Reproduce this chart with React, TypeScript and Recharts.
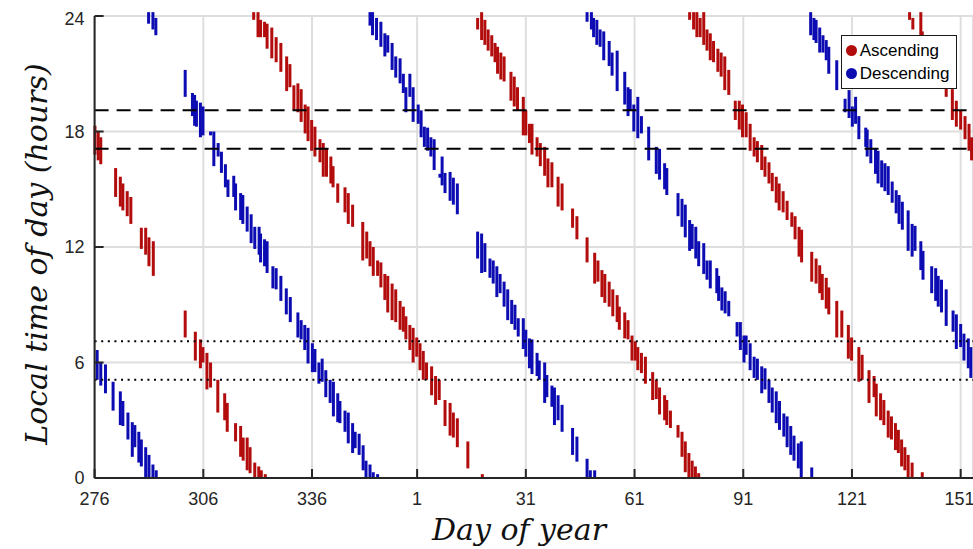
import { ScatterChart, Scatter, XAxis, YAxis, CartesianGrid, ReferenceLine, ErrorBar, Legend } from 'recharts';

// each streak: [day index, top hour, bottom hour]; day index runs on past 365 into the next year
type Pass = [number, number, number][];

const ascending1: Pass = [
  [276.1, 18.3, 16.8], [277, 18.0, 16.5], [277.7, 17.7, 16.3],
  [281.8, 16.1, 14.6], [283.1, 15.65, 14.1], [283.8, 15.3, 13.9], [285, 14.9, 13.6], [286, 14.6, 13.2],
  [288.9, 13.0, 11.9], [290.1, 13.0, 11.6], [291, 12.5, 11.0], [292.2, 12.3, 10.5],
  [301, 8.7, 7.3], [303.8, 7.6, 6.1], [305.2, 7.2, 5.7], [305.9, 6.8, 6.0], [307, 6.5, 4.6], [308, 6.0, 4.7],
  [310, 5.1, 3.4], [311.9, 4.4, 3.0], [312.6, 3.9, 2.4], [314.9, 2.85, 1.9], [316.3, 2.7, 1.1], [317, 2.1, 0.9],
  [318.1, 2.1, 0.4], [318.9, 1.6, 0.25], [320.2, 0.8, 0], [321.3, 0.6, 0], [322, 0.4, 0], [323.1, 0.2, 0],
];

const ascending2: Pass = [
  [319.9, 24.2, 23.8], [321.1, 24.2, 22.9], [321.8, 23.8, 22.9], [322.9, 23.7, 22.9], [323.6, 23.6, 22.3],
  [324.9, 23.4, 21.8], [326.1, 22.9, 21.6], [327.4, 22.6, 21.1], [329, 21.9, 20.1], [329.9, 21.5, 20.3],
  [331, 20.4, 19.1], [332.1, 20.5, 19.0], [333, 20.2, 18.5], [334.1, 19.4, 17.9], [334.9, 19.3, 17.5],
  [335.9, 18.6, 17.0], [336.8, 18.25, 16.7], [338.2, 17.6, 16.4], [339.1, 17.4, 15.65], [340, 17.1, 15.65],
  [341.2, 16.7, 15.3], [341.8, 16.2, 15.1], [343.1, 15.3, 14.3], [345.1, 15.1, 13.8], [346, 14.8, 13.2],
  [347.2, 14.2, 13.05], [350, 13.3, 11.3], [351.1, 12.8, 11.4], [352, 12.3, 11.0], [352.9, 12.0, 10.5],
  [354.1, 11.3, 10.5], [355, 11.2, 9.9], [356.1, 10.6, 9.25], [356.9, 10.5, 8.6], [358.1, 10.1, 8.2],
  [359.1, 9.8, 8.1], [360.3, 9.2, 7.7], [361.2, 8.9, 7.6], [361.9, 8.4, 7.2], [363, 7.95, 6.65],
  [363.9, 7.8, 6.0], [364.9, 7.3, 6.3], [365.8, 7.0, 5.6], [366.7, 6.6, 5.1], [367.6, 6.0, 5.1],
  [369, 5.8, 4.3], [370.1, 5.3, 3.8], [371.1, 5.1, 4.05], [372.7, 4.05, 2.7], [374.1, 3.9, 2.2],
  [375, 3.4, 2.1], [376.1, 3.1, 1.6], [379, 1.9, 0.5], [383, 0.2, 0],
];

const ascending3: Pass = [
  [381.7, 23.9, 23.3], [382.8, 24.2, 22.75], [383.7, 23.8, 22.5], [384.6, 23.3, 22.2], [385.6, 23.0, 21.9],
  [386.5, 22.6, 21.6], [387.2, 22.4, 21.0], [388.1, 22.1, 20.7], [389, 21.9, 20.6], [390.9, 21.1, 19.6],
  [391.8, 20.85, 19.3], [392.7, 20.3, 19.1], [394.3, 19.8, 17.8], [395, 19.1, 17.8], [396, 18.4, 17.4],
  [396.7, 18.4, 16.8], [398.1, 17.7, 16.7], [399, 17.4, 16.2], [400.2, 17.2, 15.7], [401.1, 16.6, 15.1],
  [402.2, 16.4, 15.1], [403.9, 15.65, 14.1], [405, 15.3, 13.9], [407.9, 14.0, 13.0], [409.1, 13.6, 12.4],
  [411.9, 12.5, 11.2], [414, 11.7, 10.1], [414.9, 11.3, 10.2], [416, 10.8, 9.4], [416.8, 10.6, 9.1],
  [418, 10.2, 8.9], [419, 9.8, 8.4], [420.2, 9.5, 8.1], [420.8, 8.9, 7.7], [422.3, 8.6, 7.25],
  [423.2, 8.2, 7.2], [424.3, 7.4, 6.1], [425.2, 7.1, 6.1], [425.9, 6.8, 5.6], [426.9, 6.5, 5.45],
  [428, 6.3, 4.9], [430, 5.5, 4.05], [431, 5.1, 4.1], [431.9, 4.7, 3.3], [433.3, 4.3, 3.0],
  [433.9, 4.05, 2.75], [434.9, 3.5, 2.6], [437, 2.75, 2.1], [438.1, 2.4, 1.1], [439, 1.9, 0.3],
  [440, 1.3, 0], [440.9, 0.9, 0], [441.8, 0.6, 0], [442.7, 0.25, 0],
];

const ascending4: Pass = [
  [440.2, 24.2, 23.8], [441.3, 24.2, 23.3], [442.2, 24.2, 22.9], [443.1, 23.9, 22.9], [444.1, 24.2, 22.5],
  [445, 23.3, 22.2], [445.9, 23.1, 21.7], [446.8, 22.7, 21.6], [448, 22.3, 21.1], [448.9, 22.1, 20.85],
  [449.9, 21.9, 20.15], [451, 21.2, 19.9], [452.8, 19.6, 18.6], [453.9, 19.6, 18.1], [454.8, 19.4, 17.7],
  [455.8, 19.0, 17.7], [456.9, 18.4, 17.0], [458, 17.7, 16.7], [458.9, 17.5, 16.4], [460.1, 17.3, 16.0],
  [461, 16.7, 15.65], [462.1, 16.4, 15.3], [463, 15.85, 14.9], [464.1, 15.65, 14.3], [464.9, 15.3, 13.9],
  [466, 14.9, 13.8], [467.1, 14.4, 13.4], [468.4, 13.8, 13.05], [469.3, 13.6, 12.4], [470.4, 13.05, 11.5],
  [471.1, 12.9, 11.2], [473.9, 11.75, 10.2], [475.1, 11.4, 10.1], [476.1, 11.05, 9.6], [476.8, 10.6, 9.25],
  [477.9, 10.4, 8.8], [478.6, 9.9, 8.5], [480.8, 9.2, 7.3], [482.2, 8.7, 7.3], [484, 7.95, 6.2],
  [484.9, 7.3, 6.1], [486.9, 6.8, 5.0], [487.8, 6.4, 5.1], [489.7, 5.6, 3.9], [491.1, 5.3, 4.2],
  [491.7, 4.9, 3.2], [492.9, 4.4, 3.0], [493.8, 4.05, 2.75], [495, 3.5, 2.1], [495.9, 3.2, 2.0],
  [497, 2.85, 1.45], [497.8, 2.5, 1.3], [498.7, 2.0, 0.6], [499.6, 1.6, 0.4], [500.5, 1.2, 0],
  [501.6, 0.8, 0], [504.4, 0.3, 0],
];

const ascending5: Pass = [
  [500.9, 24.2, 23.8], [501.8, 23.9, 23.3], [504, 24.2, 23.0], [504.4, 23.2, 22.4], [505.5, 22.9, 22.0],
  [506.5, 22.5, 21.6], [507.5, 22.1, 21.1], [508.5, 21.7, 20.7], [509.5, 21.2, 20.3], [511, 20.3, 19.8],
  [512.7, 20.2, 18.6], [513.8, 19.6, 18.25], [515, 19.1, 18.1], [516.2, 18.8, 17.6], [517.3, 18.4, 17.0],
  [518, 17.7, 16.5],
];

const descending0: Pass = [
  [276.7, 6.65, 5.1], [277.7, 6.0, 4.8], [279, 5.9, 4.4], [281.1, 5.0, 3.5], [283.1, 4.5, 2.75],
  [283.8, 4.0, 2.7], [285.2, 3.4, 2.0], [286.4, 2.9, 1.1], [287.1, 2.75, 1.6], [288.2, 2.4, 0.8],
  [288.9, 2.0, 0.6], [290.1, 1.6, 0], [291, 1.2, 0], [292.1, 0.7, 0], [293, 0.4, 0],
];

const descending1: Pass = [
  [290.9, 24.2, 23.6], [292.1, 24.2, 23.3], [292.9, 23.9, 23.0],
  [301, 21.2, 19.8], [303, 20.0, 18.8], [303.6, 19.9, 18.3], [304.1, 19.6, 18.25], [305.2, 19.5, 17.7],
  [305.9, 19.3, 17.8], [308, 18.0, 17.8], [308.9, 18.0, 16.2], [310.1, 17.4, 16.7], [311, 16.95, 15.85],
  [312.1, 16.3, 15.1], [312.8, 15.5, 14.6], [314.4, 15.7, 14.6], [314.9, 15.3, 13.9], [316.3, 14.8, 13.4],
  [316.9, 14.7, 13.2], [318.1, 14.1, 12.8], [319.2, 13.7, 12.2], [320.2, 13.05, 11.9], [321.4, 13.05, 11.6],
  [321.8, 12.7, 11.2], [322.9, 12.4, 11.0], [323.6, 12.3, 10.65], [325.2, 11.0, 9.85], [326.1, 10.9, 9.8],
  [327.4, 10.5, 9.2], [328.9, 9.85, 8.5], [330, 9.4, 8.1], [332.1, 8.6, 7.3], [333, 8.2, 7.2],
  [334, 7.95, 6.65], [334.9, 7.8, 5.95], [336.1, 7.0, 5.5], [336.8, 6.7, 5.5], [337.9, 6.0, 4.9],
  [338.8, 6.2, 5.0], [339.8, 5.6, 4.2], [341, 5.1, 3.9], [341.9, 5.0, 3.2], [343.1, 4.4, 2.9],
  [343.7, 4.0, 2.85], [345.1, 3.5, 2.4], [346, 3.4, 1.8], [347.2, 2.85, 1.3], [347.9, 2.4, 1.55],
  [349, 2.3, 1.2], [350.1, 1.7, 0.4], [350.9, 0.9, 0], [352, 0.7, 0], [352.9, 0.3, 0], [354.1, 0.2, 0],
];

const descending2: Pass = [
  [352, 24.2, 23.5], [352.7, 24.2, 23.0], [353.8, 23.9, 22.75], [355, 23.7, 22.4], [356.1, 23.1, 21.9],
  [356.9, 23.0, 22.1], [358.1, 22.6, 21.2], [359.1, 21.9, 20.8], [360.3, 21.8, 20.5], [361.2, 21.0, 20.0],
  [361.9, 20.3, 19.0], [363, 21.0, 19.8], [363.9, 20.3, 18.5], [365.3, 19.4, 18.4], [366.1, 19.1, 17.7],
  [367, 18.25, 17.2], [367.9, 18.2, 17.0], [368.8, 17.7, 16.7], [369.7, 17.6, 16.0], [371.3, 15.8, 15.6],
  [371.9, 16.7, 15.2], [372.7, 15.85, 14.8], [374.1, 15.9, 14.4], [375, 15.6, 14.2], [376.1, 15.3, 13.7],
  [381.7, 12.8, 11.4], [382.8, 12.7, 10.65], [383.7, 12.2, 10.7], [385.1, 11.4, 10.4], [386, 11.3, 10.1],
  [387, 11.0, 9.4], [387.9, 10.6, 9.6], [389, 10.2, 8.9], [390, 9.8, 8.2], [391.1, 9.25, 8.0],
  [392, 9.0, 7.7], [392.9, 8.3, 7.35], [394.3, 8.3, 6.7], [395, 7.7, 6.3], [396, 7.25, 5.7],
  [396.7, 7.2, 5.4], [398.1, 6.5, 5.3], [398.7, 6.1, 5.1], [400.2, 6.0, 3.9], [400.8, 5.35, 4.2],
  [402.2, 4.8, 3.7], [402.9, 4.7, 2.75], [403.9, 4.3, 3.0], [405, 3.8, 2.4], [407.9, 2.6, 1.2],
  [409.1, 2.15, 0.85], [411.9, 1.0, 0], [412.8, 0.4, 0], [414, 0.4, 0],
];

const descending3: Pass = [
  [411.9, 24.2, 23.7], [413.1, 24.2, 23.3], [413.7, 23.9, 22.9], [414.6, 23.8, 22.5], [415.5, 23.3, 22.4],
  [416.5, 23.2, 21.7], [418, 22.7, 21.4], [418.8, 22.1, 20.9], [420.2, 22.2, 20.1], [422.3, 21.1, 19.4],
  [423.2, 20.3, 18.8], [423.8, 20.2, 19.1], [424.8, 19.4, 18.0], [425.9, 19.8, 17.65], [426.9, 18.8, 17.9],
  [428.9, 18.25, 16.5], [431, 17.2, 15.8], [431.9, 17.1, 15.5], [433.3, 16.35, 15.0], [433.9, 16.1, 14.7],
  [437, 14.8, 13.6], [438.1, 14.5, 13.05], [439, 14.2, 12.5], [440.2, 13.4, 11.8], [440.9, 13.2, 11.9],
  [441.9, 13.05, 11.4], [442.7, 12.3, 11.0], [444.1, 12.2, 10.6], [445, 11.3, 10.3], [445.9, 11.3, 9.85],
  [447.7, 10.9, 9.6], [448.2, 10.5, 9.2], [449.1, 9.9, 8.7], [450, 9.7, 8.55], [451, 9.2, 8.4],
  [453.3, 8.1, 7.35], [454.2, 8.1, 6.65], [455.2, 7.4, 6.0], [455.8, 7.4, 6.4], [456.9, 7.0, 5.6],
  [458, 6.3, 5.2], [458.9, 6.2, 5.1], [460.1, 5.8, 4.4], [461, 5.7, 4.6], [462.1, 5.1, 3.9],
  [463, 4.7, 3.4], [464.1, 4.5, 2.85], [465, 4.0, 2.5], [466.2, 3.35, 2.15], [467.1, 3.2, 1.6],
  [468.1, 2.7, 1.2], [469, 2.2, 0.9], [470.2, 1.8, 0.5], [471, 1.9, 0], [473.9, 0.55, 0],
];

const descending4: Pass = [
  [473.6, 24.2, 23.0], [474.5, 23.9, 22.75], [475.1, 23.8, 22.6], [476.1, 23.4, 22.1], [477, 23.0, 22.1],
  [477.9, 22.75, 21.7], [478.6, 22.4, 21.0], [480.8, 21.7, 20.15], [483.1, 19.7, 19.0], [484.2, 20.15, 18.7],
  [485.1, 19.3, 18.25], [486, 19.8, 18.4], [486.9, 18.8, 17.6], [488.8, 18.2, 17.2], [489.2, 18.1, 16.7],
  [490.2, 17.6, 16.35], [491.5, 17.1, 15.8], [492.2, 17.0, 15.3], [493.2, 16.5, 15.1], [494.1, 16.35, 14.9],
  [495, 16.2, 14.7], [496.1, 15.4, 14.3], [497.2, 14.95, 13.75], [498, 14.7, 13.2], [498.9, 14.35, 12.9],
  [500.5, 13.9, 11.8], [501.6, 13.2, 11.5], [502.4, 13.1, 11.8], [504, 12.3, 10.8], [504.6, 11.8, 10.3],
  [507, 11.0, 9.6], [508.1, 10.9, 9.2], [508.8, 10.5, 8.9], [509.7, 10.3, 8.6], [511, 9.8, 7.9],
  [512.9, 8.7, 7.6], [513.8, 8.5, 6.7], [515, 8.0, 6.8], [515.9, 7.5, 6.1], [517.1, 7.25, 5.7],
  [517.8, 6.8, 5.2],
];

const dayTicks = [276, 306, 336, 365, 395, 425, 455, 485, 515];
const hourTicks = [0, 6, 12, 18, 24];
const duskLines = [19.1, 17.1];
const dawnLines = [7.1, 5.1];

const RED = '#b20c0c';
const BLUE = '#0c0cb2';

const legendItems = [
  { label: 'Ascending', color: RED },
  { label: 'Descending', color: BLUE },
];

const toPoints = (passes: Pass[]) =>
  passes.flat().map(([day, top, bottom]) => ({ day, mid: (top + bottom) / 2, spread: (top - bottom) / 2 }));

const ascData = toPoints([ascending1, ascending2, ascending3, ascending4, ascending5]);
const descData = toPoints([descending0, descending1, descending2, descending3, descending4]);

const dayLabel = (v: number) => String(v >= 365 ? v - 364 : v);

const tickStyle = { fill: '#262626', fontSize: 18, fontFamily: '"Liberation Sans", Arial, sans-serif' };
const axisStroke = { stroke: '#262626', strokeWidth: 2 };
const titleFont = { fontFamily: '"DejaVu Serif", serif', fontStyle: 'italic', fontSize: 30, color: '#111' };

function LegendBox() {
  return (
    <div style={{ border: '1.5px solid #1a1a1a', background: '#fff', padding: '3px 6px 3px 4px', width: 104 }}>
      {legendItems.map((it) => (
        <div key={it.label} style={{ display: 'flex', alignItems: 'center', height: 23 }}>
          <span style={{ width: 11, height: 11, borderRadius: '50%', background: it.color, display: 'inline-block', marginRight: 3 }} />
          <span style={{ fontFamily: '"Liberation Sans", Arial, sans-serif', fontSize: 17, color: '#000' }}>{it.label}</span>
        </div>
      ))}
    </div>
  );
}

const noMark = () => <g />;

export default function App() {
  return (
    <div style={{ padding: '8px 0 0 8px', width: 965, height: 541 }}>
      <style>{'html,body{margin:0;padding:0;overflow:hidden}'}</style>
      <div style={{ position: 'relative', width: 965, height: 541 }}>
        <ScatterChart width={965} height={541} margin={{ top: 8, right: 0, bottom: 41, left: 0 }}>
          <CartesianGrid stroke="#dedede" strokeWidth={2} />
          <XAxis
            type="number"
            dataKey="day"
            domain={[276, 518.4]}
            ticks={dayTicks}
            tickFormatter={dayLabel}
            allowDataOverflow
            height={30}
            tick={tickStyle}
            tickSize={-9}
            tickMargin={23}
            axisLine={axisStroke}
            tickLine={axisStroke}
          />
          <YAxis
            type="number"
            dataKey="mid"
            domain={[0, 24]}
            ticks={hourTicks}
            allowDataOverflow
            width={86.6}
            tick={tickStyle}
            tickSize={-9}
            tickMargin={19}
            axisLine={axisStroke}
            tickLine={axisStroke}
          />
          <Scatter name="Ascending" data={ascData} fill={RED} shape={noMark} isAnimationActive={false}>
            <ErrorBar dataKey="spread" direction="y" width={0} stroke={RED} strokeWidth={3} isAnimationActive={false} />
          </Scatter>
          <Scatter name="Descending" data={descData} fill={BLUE} shape={noMark} isAnimationActive={false}>
            <ErrorBar dataKey="spread" direction="y" width={0} stroke={BLUE} strokeWidth={3} isAnimationActive={false} />
          </Scatter>
          {duskLines.map((h) => (
            <ReferenceLine key={'d' + h} y={h} stroke="#000" strokeWidth={2} strokeDasharray="14 8" />
          ))}
          {dawnLines.map((h) => (
            <ReferenceLine key={'m' + h} y={h} stroke="#000" strokeWidth={2} strokeDasharray="2 4.6" />
          ))}
          <Legend
            verticalAlign="middle"
            align="center"
            wrapperStyle={{ top: 27, left: 832.7, width: 'auto', height: 'auto' }}
            content={() => <LegendBox />}
          />
        </ScatterChart>
        <div
          style={{
            ...titleFont,
            position: 'absolute',
            left: 28.6,
            top: 245.5,
            lineHeight: '30px',
            whiteSpace: 'nowrap',
            transform: 'translate(-50%, -50%) rotate(-90deg)',
          }}
        >
          Local time of day (hours)
        </div>
        <div
          style={{
            ...titleFont,
            position: 'absolute',
            left: 511,
            top: 507,
            lineHeight: '30px',
            whiteSpace: 'nowrap',
            transform: 'translateX(-50%)',
          }}
        >
          Day of year
        </div>
      </div>
    </div>
  );
}
